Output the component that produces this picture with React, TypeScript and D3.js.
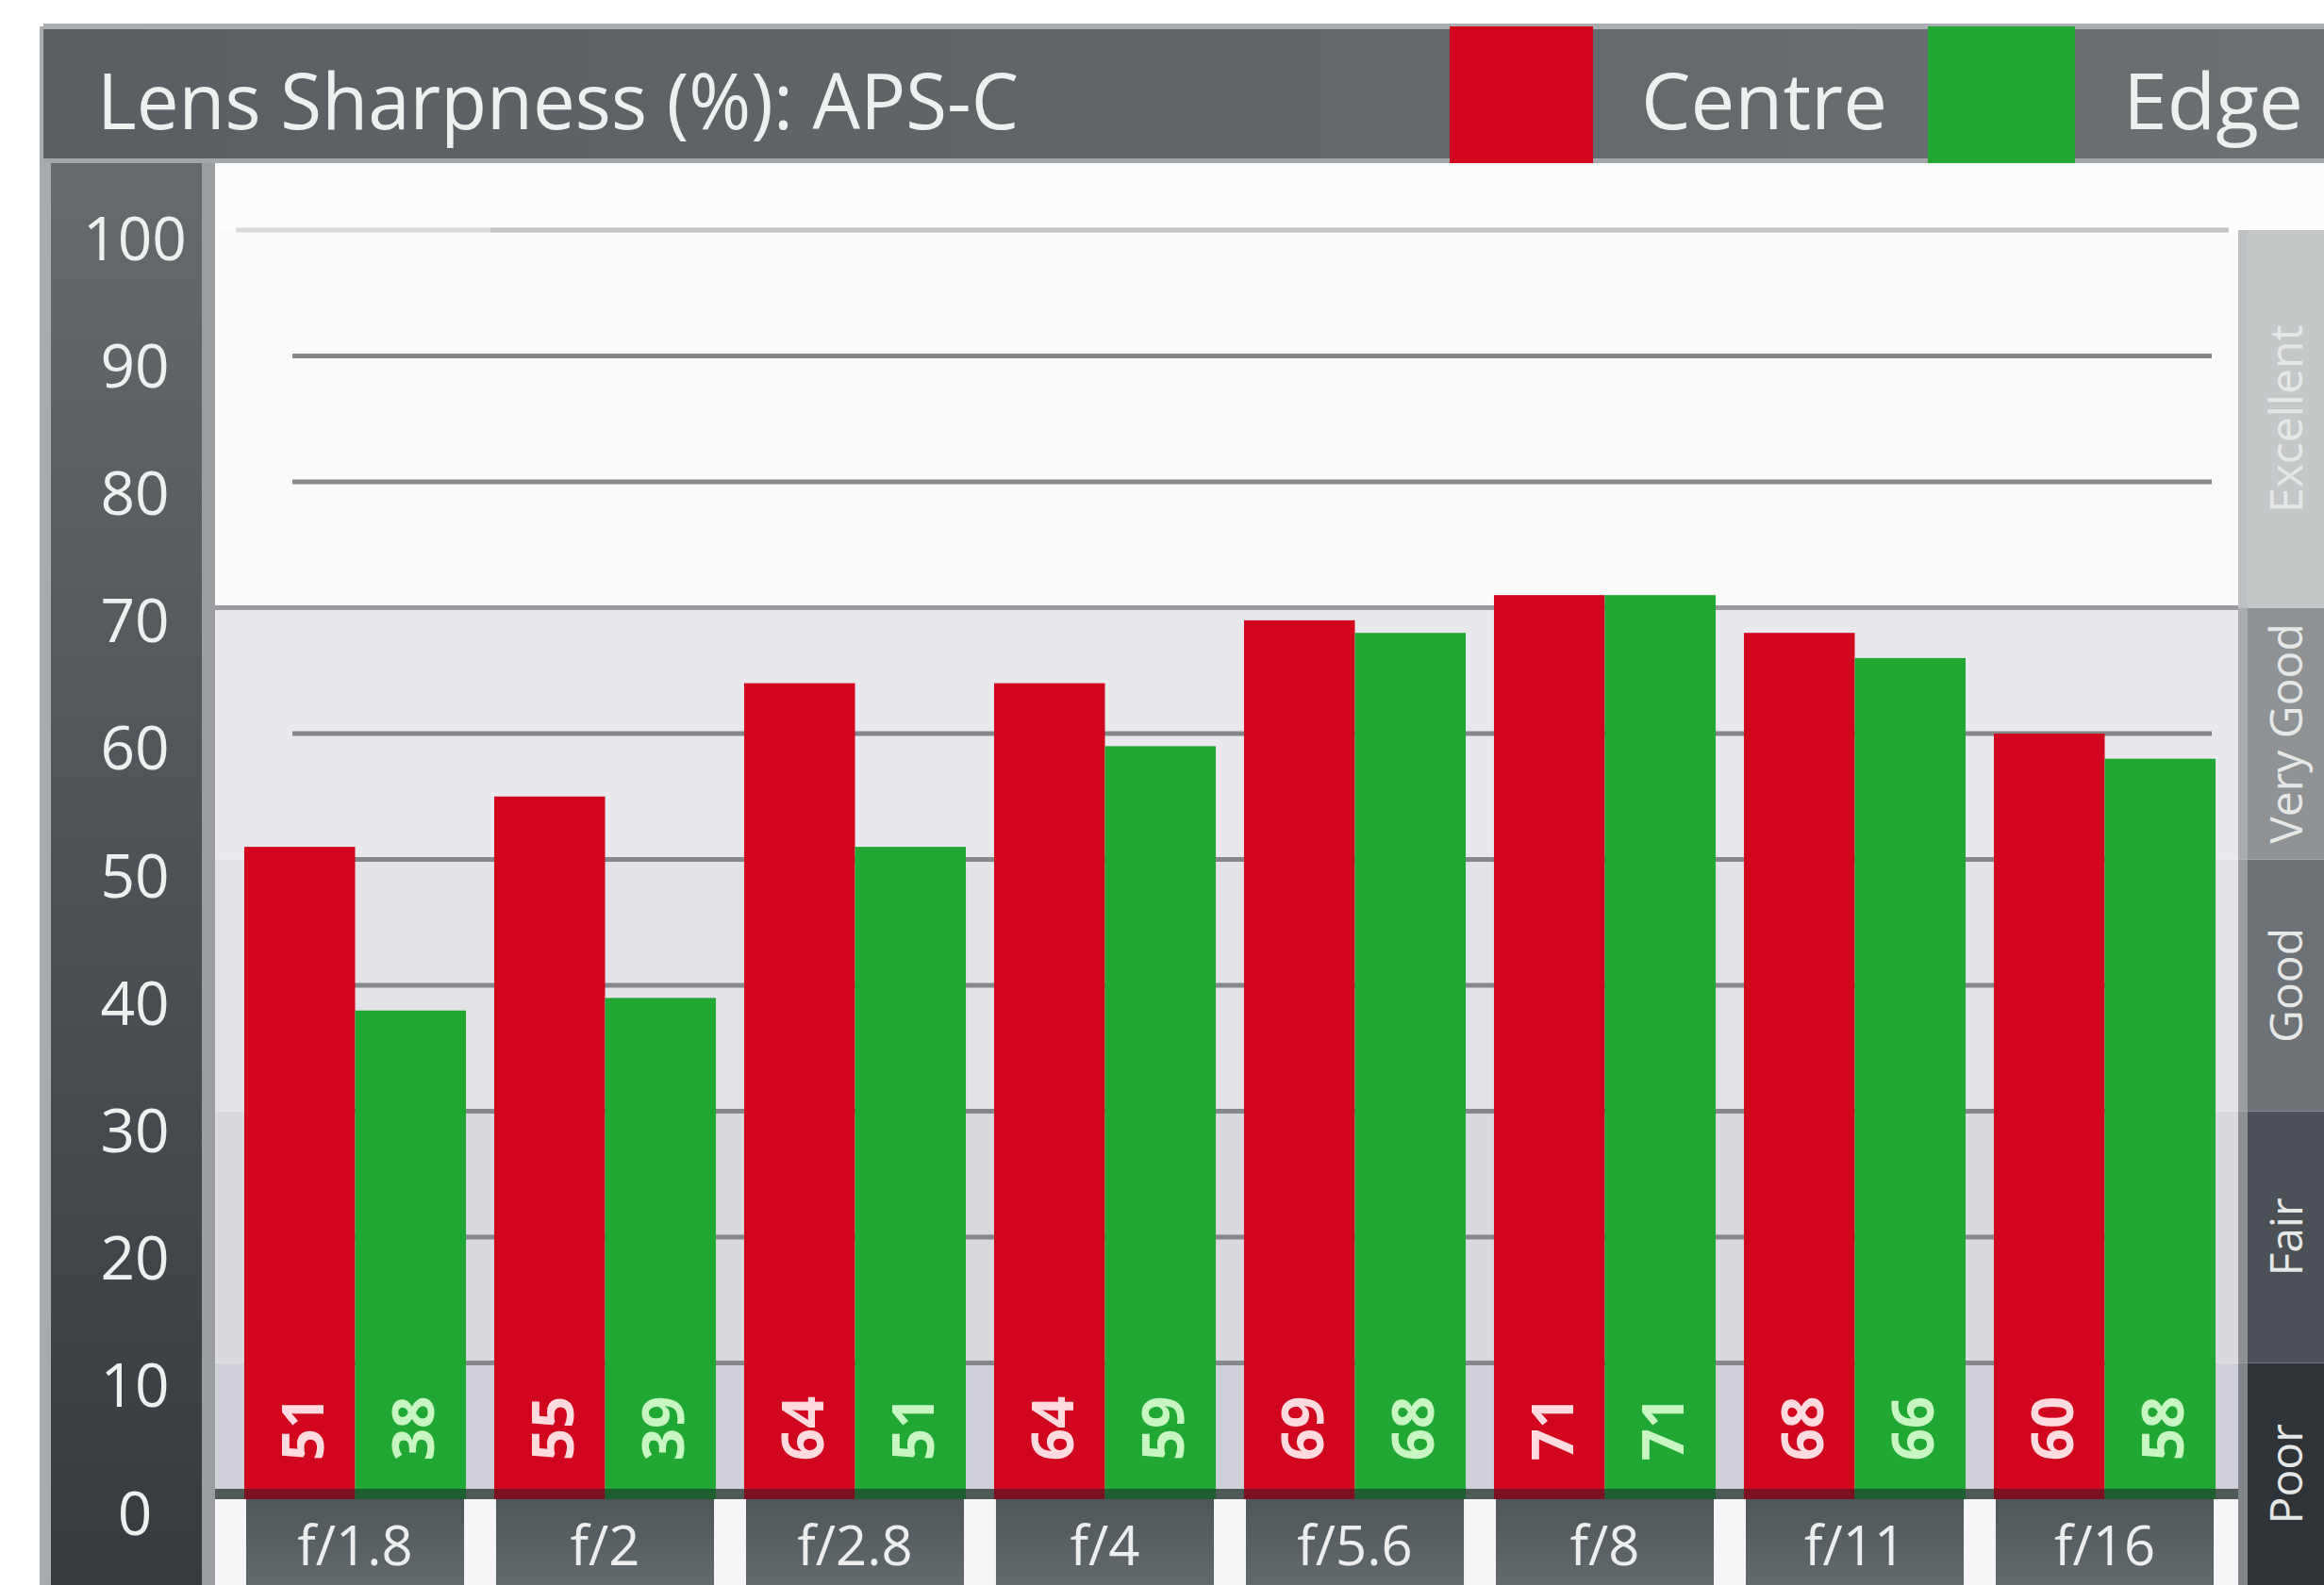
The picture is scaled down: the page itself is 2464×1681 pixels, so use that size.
import * as d3 from 'd3'

const categories = ['f/1.8', 'f/2', 'f/2.8', 'f/4', 'f/5.6', 'f/8', 'f/11', 'f/16']
const centre = [51, 55, 64, 64, 69, 71, 68, 60]
const edge = [38, 39, 51, 59, 68, 71, 66, 58]
const series = ['Centre', 'Edge']
const yTicks = [0, 10, 20, 30, 40, 50, 60, 70, 80, 90, 100]
const gridTicks = [10, 20, 30, 40, 50, 60, 70, 80, 90]
const ratingLabels = ['Poor', 'Fair', 'Good', 'Very Good', 'Excellent']
const ratingStops = [0, 10, 30, 50, 70, 100]

const W = 2464
const H = 1681
const frameLeft = 46
const frameTop = 28
const headerBottom = 173
const plotLeft = 228
const plotRight = 2373
const stripBottom = 1590

const barColor = ['#d2051f', '#21a834']
const labelColor = ['#ffdade', '#c8f6c2']
const shadowColor = ['#7d1020', '#1d6030']
const plotBg = ['#d0d0d8', '#d9d9df', '#e2e2e7', '#e9e9ed', '#fafafa']
const colBg = ['#2e3438', '#4b5156', '#6c7276', '#8f9396', '#c4c8c9']

export default function App() {
  const y = d3.scaleLinear([0, 100], [1579, 244])
  const yLabel = d3.scaleLinear([0, 100], [1603, 251])
  const x0 = d3
    .scaleBand<string>()
    .domain(categories)
    .range([244, 2364])
    .paddingInner(0.113)
    .paddingOuter(0.0565)
  const x1 = d3.scaleBand<string>().domain(series).range([0, x0.bandwidth()])
  const values = [centre, edge]

  const bandTop = (i: number) => (i === ratingStops.length - 2 ? y(100) : y(ratingStops[i + 1]))
  const bandBottom = (i: number) => y(ratingStops[i])

  return (
    <svg
      width={W}
      height={H}
      style={{ position: 'absolute', left: 0, top: 0 }}
      fontFamily="'Open Sans', sans-serif"
    >
      <defs>
        <linearGradient id="leftCol" x1="0" x2="0" y1="0" y2="1">
          <stop offset="0" stopColor="#6a6f72" />
          <stop offset="1" stopColor="#343a3e" />
        </linearGradient>
        <linearGradient id="header" x1="0" x2="1" y1="0" y2="0">
          <stop offset="0" stopColor="#5a5f63" />
          <stop offset="0.6" stopColor="#62676a" />
          <stop offset="1" stopColor="#6c7073" />
        </linearGradient>
        <linearGradient id="tickBox" x1="0" x2="0" y1="0" y2="1">
          <stop offset="0" stopColor="#4f565a" />
          <stop offset="1" stopColor="#636a6e" />
        </linearGradient>
      </defs>

      <rect x={0} y={0} width={W} height={H} fill="#ffffff" />

      {/* frame: left column */}
      <rect x={frameLeft} y={frameTop} width={plotLeft - frameLeft} height={H - frameTop} fill="url(#leftCol)" />
      <rect x={frameLeft - 4} y={frameTop} width={12} height={H - frameTop} fill="#a7abae" />
      <rect x={plotLeft - 14} y={headerBottom} width={14} height={H - headerBottom} fill="#9a9ea1" />

      {/* header */}
      <rect x={frameLeft} y={frameTop} width={W - frameLeft} height={headerBottom - frameTop} fill="url(#header)" />
      <rect x={frameLeft} y={frameTop - 3} width={W - frameLeft} height={6} fill="#a9adb0" />
      <rect x={frameLeft} y={headerBottom - 5} width={W - frameLeft} height={5} fill="#a3a7a9" />

      <text x={103} y={137} fontSize={82} fill="#eef0f0" textLength={977} lengthAdjust="spacingAndGlyphs">
        Lens Sharpness (%): APS-C
      </text>

      {/* legend */}
      <rect x={1537} y={frameTop} width={152} height={headerBottom - frameTop} fill={barColor[0]} />
      <text x={1740} y={137} fontSize={82} fill="#eef0f0" textLength={261} lengthAdjust="spacingAndGlyphs">
        {series[0]}
      </text>
      <rect x={2044} y={frameTop} width={156} height={headerBottom - frameTop} fill={barColor[1]} />
      <text x={2251} y={137} fontSize={82} fill="#eef0f0" textLength={191} lengthAdjust="spacingAndGlyphs">
        {series[1]}
      </text>

      {/* plot area */}
      <rect x={plotLeft} y={headerBottom} width={W - plotLeft} height={y(100) - headerBottom} fill="#fcfcfc" />
      {ratingLabels.map((r, i) => (
        <rect
          key={r}
          x={plotLeft}
          y={bandTop(i)}
          width={plotRight - plotLeft}
          height={bandBottom(i) - bandTop(i)}
          fill={plotBg[i]}
        />
      ))}
      <line x1={250} x2={plotRight - 10} y1={y(100)} y2={y(100)} stroke="#dadada" strokeWidth={5} />
      <line x1={520} x2={plotRight - 10} y1={y(100)} y2={y(100)} stroke="#c6c6c6" strokeWidth={5} />
      {gridTicks.map((t) => (
        <line
          key={t}
          x1={t === 70 ? plotLeft : 310}
          x2={t === 70 ? plotRight : 2345}
          y1={y(t)}
          y2={y(t)}
          stroke={t === 70 ? '#9a9a9e' : '#85878a'}
          strokeWidth={5}
        />
      ))}

      {/* rating column */}
      {ratingLabels.map((r, i) => {
        const top = bandTop(i)
        const bottom = i === 0 ? H : bandBottom(i)
        const cy = (top + bottom) / 2
        return (
          <g key={r}>
            <rect x={plotRight} y={top} width={W - plotRight} height={bottom - top} fill={colBg[i]} />
            <text
              transform={`translate(2422,${cy}) rotate(-90)`}
              textAnchor="middle"
              dominantBaseline="central"
              fontSize={48}
              fill="#e6e8e8"
            >
              {r}
            </text>
          </g>
        )
      })}
      <rect x={plotRight} y={y(100)} width={10} height={H - y(100)} fill="#b9bcbf" opacity={0.6} />

      {/* y axis labels */}
      {yTicks.map((t) => (
        <text
          key={t}
          x={143}
          y={yLabel(t)}
          textAnchor="middle"
          dominantBaseline="central"
          fontSize={64}
          fill="#eef0f0"
        >
          {t}
        </text>
      ))}

      {/* strip under bars and tick boxes */}
      <rect x={plotLeft} y={y(0)} width={plotRight - plotLeft} height={stripBottom - y(0)} fill="#4e5a56" />
      <rect x={plotLeft} y={stripBottom} width={plotRight - plotLeft} height={H - stripBottom} fill="#f6f6f8" />
      {categories.map((c) => (
        <g key={c}>
          <rect
            x={x0(c)! + 2}
            y={stripBottom}
            width={x0.bandwidth() - 4}
            height={H - stripBottom}
            fill="url(#tickBox)"
          />
          <text
            x={x0(c)! + x0.bandwidth() / 2}
            y={1660}
            textAnchor="middle"
            fontSize={58}
            fill="#eceeee"
          >
            {c}
          </text>
        </g>
      ))}

      {/* bars */}
      {categories.map((c, ci) => (
        <g key={c} transform={`translate(${x0(c)},0)`}>
          {series.map((s, si) => {
            const v = values[si][ci]
            const bx = x1(s)!
            const bw = x1.bandwidth()
            return (
              <g key={s}>
                <rect x={bx} y={y(v)} width={bw} height={y(0) - y(v)} fill={barColor[si]} />
                <rect x={bx} y={y(0)} width={bw} height={stripBottom - y(0)} fill={shadowColor[si]} />
                <text
                  transform={`translate(${bx + bw / 2 + 2},${y(0) - 64}) rotate(-90)`}
                  textAnchor="middle"
                  dominantBaseline="central"
                  fontSize={60}
                  fontWeight="bold"
                  fill={labelColor[si]}
                >
                  {v}
                </text>
              </g>
            )
          })}
        </g>
      ))}
    </svg>
  )
}
